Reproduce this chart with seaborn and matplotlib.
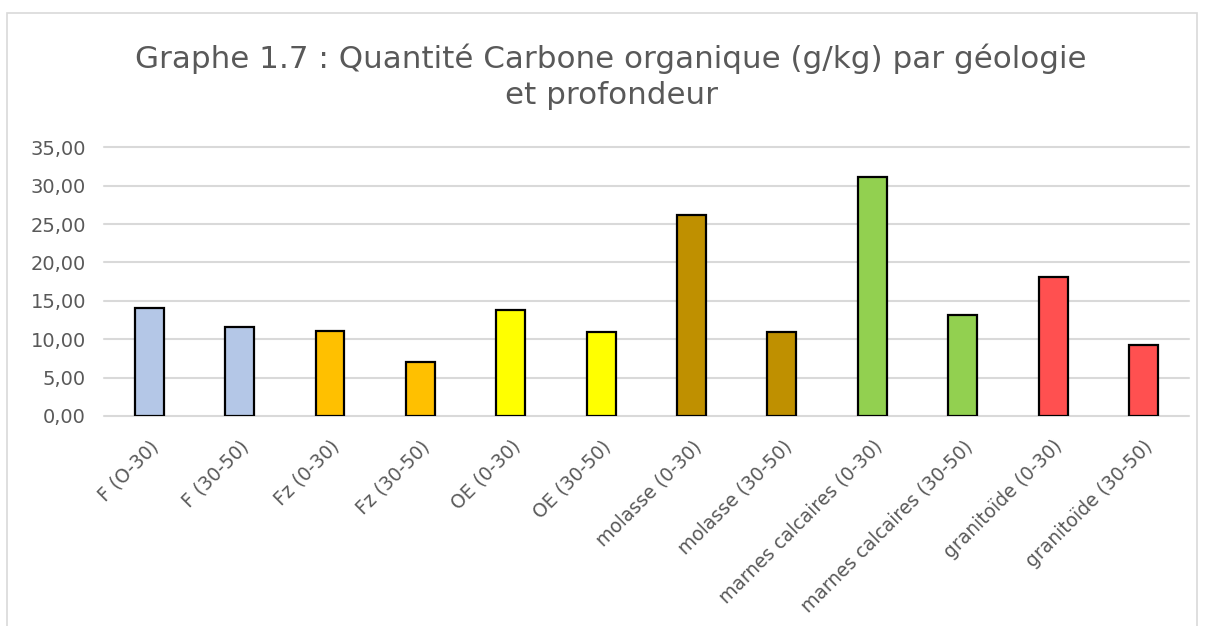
import matplotlib
matplotlib.use("Agg")
import matplotlib.pyplot as plt
import matplotlib.patches as mpatches
import seaborn as sns
import pandas as pd

# Données
categories = [
    "F (O-30)", "F (30-50)", "Fz (0-30)", "Fz (30-50)", "OE (0-30)", "OE (30-50)",
    "molasse (0-30)", "molasse (30-50)", "marnes calcaires (0-30)",
    "marnes calcaires (30-50)", "granitoïde (0-30)", "granitoïde (30-50)",
]
carbone = [14.03, 11.55, 11.07, 7.03, 13.77, 10.90, 26.18, 10.90, 31.17, 13.11, 18.15, 9.20]
couleurs = [
    "#B4C7E7", "#B4C7E7", "#FFC000", "#FFC000", "#FFFF00", "#FFFF00",
    "#BF9000", "#BF9000", "#92D050", "#92D050", "#FF5050", "#FF5050",
]
yticks = [0, 5, 10, 15, 20, 25, 30, 35]

sns.set_theme(style="white")
plt.rcParams['font.family'] = ['DejaVu Sans']
GRIS = "#595959"

df = pd.DataFrame({"cat": categories, "val": carbone})

fig = plt.figure(figsize=(12.08, 6.26), dpi=100)
ax = fig.add_axes([0.0861, 0.3355, 0.8979, 0.4292])

sns.barplot(data=df, x="cat", y="val", hue="cat", palette=couleurs, legend=False,
            width=0.32, saturation=1, edgecolor="black", linewidth=1.6, ax=ax, zorder=3)

ax.set_ylim(0, 35)
ax.set_xlim(-0.5, len(categories) - 0.5)
ax.set_yticks(yticks)
ax.set_yticklabels([f"{v:.2f}".replace(".", ",") for v in yticks], fontsize=14, color=GRIS)
ax.yaxis.grid(True, color="#D9D9D9", linewidth=1.5, zorder=0)
for gl in ax.get_ygridlines():
    gl.set_clip_on(False)
ax.set_axisbelow(True)
for s in ax.spines.values():
    s.set_visible(False)
ax.tick_params(axis="both", length=0)
ax.tick_params(axis="y", pad=13)
ax.set_xlabel("")
ax.set_ylabel("")
ax.set_xticks(range(len(categories)))
ax.set_xticklabels(categories, rotation=45, ha="right", va="top", rotation_mode="anchor",
                   fontsize=13.5, color=GRIS)
ax.tick_params(axis="x", pad=15)

fig.text(0.506, 0.878, "Graphe 1.7 : Quantité Carbone organique (g/kg) par géologie\net profondeur",
         ha="center", va="center", fontsize=22.3, color=GRIS, linespacing=1.3)

# cadre du graphique
fig.patches.append(mpatches.Rectangle((0.006, -0.1), 0.985, 1.08, transform=fig.transFigure,
                                      fill=False, edgecolor="#D9D9D9", linewidth=1.2))

fig.savefig("out.png", dpi=100)
